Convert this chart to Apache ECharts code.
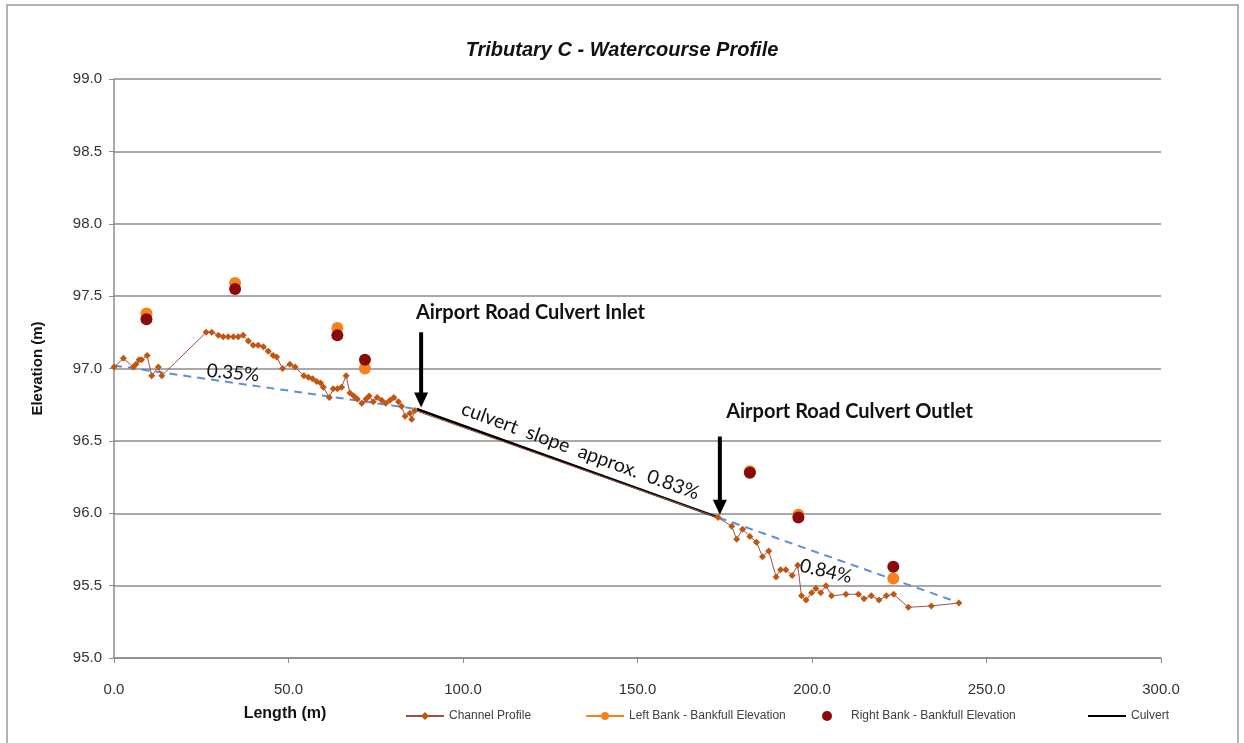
<!DOCTYPE html>
<html>
<head>
<meta charset="utf-8">
<title>Tributary C - Watercourse Profile</title>
<script src="https://cdn.jsdelivr.net/npm/echarts@6/dist/echarts.min.js"></script>
<style>
  html, body { margin: 0; padding: 0; background: #fff; }
  #chart { width: 1244px; height: 743px; }
</style>
</head>
<body>
<div id="chart"></div>
<script>
// channel profile: [length m, elevation m]
var channelProfile = [
  [0, 97.01], [2.7, 97.07], [5.5, 97.01], [6.3, 97.03], [7.2, 97.06], [7.9, 97.06],
  [9.5, 97.09], [10.8, 96.95], [12.7, 97.01], [13.7, 96.95],
  [26.4, 97.25], [28.0, 97.25], [29.9, 97.23], [31.3, 97.22], [32.7, 97.22],
  [34.2, 97.22], [35.6, 97.22], [37.0, 97.23], [38.5, 97.19], [39.9, 97.16],
  [41.3, 97.16], [42.8, 97.15], [44.2, 97.12], [45.6, 97.09], [46.6, 97.08],
  [48.3, 97.00], [50.4, 97.03], [51.9, 97.01], [54.4, 96.95], [55.7, 96.94],
  [56.9, 96.93], [58.1, 96.91], [59.2, 96.90], [60.0, 96.87], [61.7, 96.80],
  [62.8, 96.86], [64.0, 96.86], [65.2, 96.87], [66.5, 96.95], [67.6, 96.83],
  [68.7, 96.81], [69.7, 96.79], [71.0, 96.76], [72.2, 96.79], [73.1, 96.81],
  [74.3, 96.77], [75.4, 96.80], [76.7, 96.78], [77.9, 96.76], [79.1, 96.78],
  [80.2, 96.80], [81.5, 96.77], [82.4, 96.74], [83.4, 96.67], [84.8, 96.69],
  [85.3, 96.65], [86.2, 96.71],
  [173.1, 95.97], [177.0, 95.91], [178.4, 95.82], [180.1, 95.89], [182.2, 95.84],
  [184.1, 95.80], [185.8, 95.70], [187.6, 95.74], [189.7, 95.56], [191.0, 95.61],
  [192.5, 95.61], [194.3, 95.57], [195.9, 95.64], [197.0, 95.43], [198.3, 95.40],
  [199.9, 95.45], [201.1, 95.48], [202.5, 95.45], [204.0, 95.50], [205.6, 95.43],
  [209.7, 95.44], [213.3, 95.44], [214.9, 95.41], [217.0, 95.43], [219.2, 95.40],
  [221.3, 95.43], [223.4, 95.44], [227.6, 95.35], [234.2, 95.36], [242.1, 95.38]
];
var leftBank = [[9.3, 97.38], [34.7, 97.59], [64.0, 97.28], [71.9, 97.00], [182.2, 96.29], [196.1, 95.99], [223.3, 95.55]];
var rightBank = [[9.3, 97.34], [34.7, 97.55], [64.0, 97.23], [71.9, 97.06], [182.2, 96.28], [196.1, 95.97], [223.3, 95.63]];
var culvert = [[86.7, 96.72], [173.3, 95.97]];
var slopeUpstream = [[0, 97.02], [86.7, 96.72]];
var slopeDownstream = [[173.3, 95.97], [240.0, 95.40]];
var xTicks = [0, 50, 100, 150, 200, 250, 300];
var yTicks = [95, 95.5, 96, 96.5, 97, 97.5, 98, 98.5, 99];

var font = 'Liberation Sans, Arial, sans-serif';
var noteFont = 'Lato, Open Sans, sans-serif';
var gridColor = '#8c8c8c';

var chart = echarts.init(document.getElementById('chart'));

var legendText = { fontFamily: font, fontSize: 12, color: '#404040' };
function legendAt(item, left) {
  return {
    data: [item], left: left, top: 705, itemWidth: 38, itemHeight: 10,
    textStyle: legendText, selectedMode: false
  };
}

chart.setOption({
  animation: false,
  backgroundColor: '#fff',
  title: {
    text: 'Tributary C - Watercourse Profile', left: 'center', top: 35,
    textStyle: { fontFamily: font, fontSize: 20, fontWeight: 'bold', fontStyle: 'italic', color: '#111' }
  },
  grid: { left: 114, right: 83, top: 79, bottom: 85 },
  legend: [
    legendAt({ name: 'Channel Profile' }, 400),
    legendAt({ name: 'Left Bank - Bankfull Elevation', lineStyle: { width: 2, color: '#f5821f', opacity: 1 } }, 580),
    legendAt({ name: 'Right Bank - Bankfull Elevation' }, 817),
    legendAt({ name: 'Culvert', itemStyle: { opacity: 0 } }, 1082)
  ],
  xAxis: {
    type: 'value', min: 0, max: 300, interval: 50,
    axisLine: { lineStyle: { color: gridColor, width: 1.5 } },
    axisTick: { show: true, length: 5, lineStyle: { color: gridColor } },
    axisLabel: { fontFamily: font, fontSize: 15, color: '#333', margin: 24,
      formatter: function (v) { return xTicks.indexOf(v) >= 0 ? v.toFixed(1) : ''; } },
    splitLine: { show: false }
  },
  yAxis: {
    type: 'value', min: 95, max: 99, interval: 0.5,
    name: 'Elevation (m)', nameLocation: 'middle', nameGap: 69, nameRotate: 90,
    nameTextStyle: { fontFamily: font, fontSize: 15, fontWeight: 'bold', color: '#111' },
    axisLine: { show: true, lineStyle: { color: gridColor, width: 1.5 } },
    axisTick: { show: true, length: 5, lineStyle: { color: gridColor } },
    axisLabel: { fontFamily: font, fontSize: 15, color: '#333', margin: 12,
      formatter: function (v) { return yTicks.indexOf(v) >= 0 ? v.toFixed(1) : ''; } },
    splitLine: { show: true, lineStyle: { color: gridColor, width: 1.5 } }
  },
  series: [
    {
      name: 'Slope upstream', type: 'line', data: slopeUpstream, symbol: 'none',
      lineStyle: { color: '#5b8fd6', width: 2, type: [8, 6] }, z: 1, silent: true
    },
    {
      name: 'Slope downstream', type: 'line', data: slopeDownstream, symbol: 'none',
      lineStyle: { color: '#5b8fd6', width: 2, type: [8, 6] }, z: 1, silent: true
    },
    {
      name: 'Channel Profile', type: 'line', data: channelProfile,
      symbol: 'diamond', symbolSize: 7,
      itemStyle: { color: '#c0560f' },
      lineStyle: { color: '#a0504b', width: 1 }, z: 3
    },
    {
      name: 'Culvert', type: 'line', data: culvert, symbol: 'none',
      itemStyle: { color: '#000' },
      lineStyle: { color: '#000', width: 2.5 }, z: 2
    },
    {
      name: 'Left Bank - Bankfull Elevation', type: 'line', data: leftBank,
      symbol: 'circle', symbolSize: 12,
      itemStyle: { color: '#f5821f' },
      lineStyle: { width: 0, opacity: 0 }, z: 4
    },
    {
      name: 'Right Bank - Bankfull Elevation', type: 'scatter', data: rightBank,
      symbol: 'circle', symbolSize: 12,
      itemStyle: { color: '#8b0a0a', opacity: 1 }, z: 5
    }
  ]
});

// annotations placed in data coordinates
function px(pt) { return chart.convertToPixel({ gridIndex: 0 }, pt); }

function arrow(x, yTop, yTip) {
  var a = px([x, yTop]), b = px([x, yTip]);
  return [
    { type: 'line', shape: { x1: a[0], y1: a[1], x2: b[0], y2: b[1] - 12 },
      style: { stroke: '#000', lineWidth: 4 }, z: 10 },
    { type: 'polygon', shape: { points: [[b[0] - 7, b[1] - 15], [b[0] + 7, b[1] - 15], [b[0], b[1]]] },
      style: { fill: '#000' }, z: 10 }
  ];
}

function note(text, pt, deg, size, weight, align) {
  var p = px(pt);
  return {
    type: 'text', x: p[0], y: p[1], rotation: -deg * Math.PI / 180, z: 11,
    style: { text: text, fontFamily: noteFont, fontSize: size, fontWeight: weight || 'normal',
      fill: '#111', align: align || 'center', verticalAlign: 'middle' }
  };
}

var g = [
  { type: 'rect', shape: { x: 7, y: 5, width: 1231, height: 760 },
    style: { fill: null, stroke: '#999', lineWidth: 1.5 }, z: 0, silent: true },
  { type: 'text', x: 285, y: 714, z: 11,
    style: { text: 'Length (m)', fontFamily: font, fontSize: 16, fontWeight: 'bold', fill: '#111',
      align: 'center', verticalAlign: 'middle' } }
];
g = g.concat(arrow(88.0, 97.25, 96.73));
g = g.concat(arrow(173.6, 96.53, 95.99));
g.push(note('Airport Road Culvert Inlet', [86.5, 97.39], 0, 20, 'bold', 'left'));
g.push(note('Airport Road Culvert Outlet', [175.4, 96.70], 0, 20, 'bold', 'left'));
g.push(note('0.35%', [34.1, 96.97], 5, 19));
g.push(note('culvert  slope  approx.  0.83%', [133.6, 96.43], 20, 19.5));
g.push(note('0.84%', [204.0, 95.60], 13, 19));
chart.setOption({ graphic: g });
</script>
</body>
</html>
